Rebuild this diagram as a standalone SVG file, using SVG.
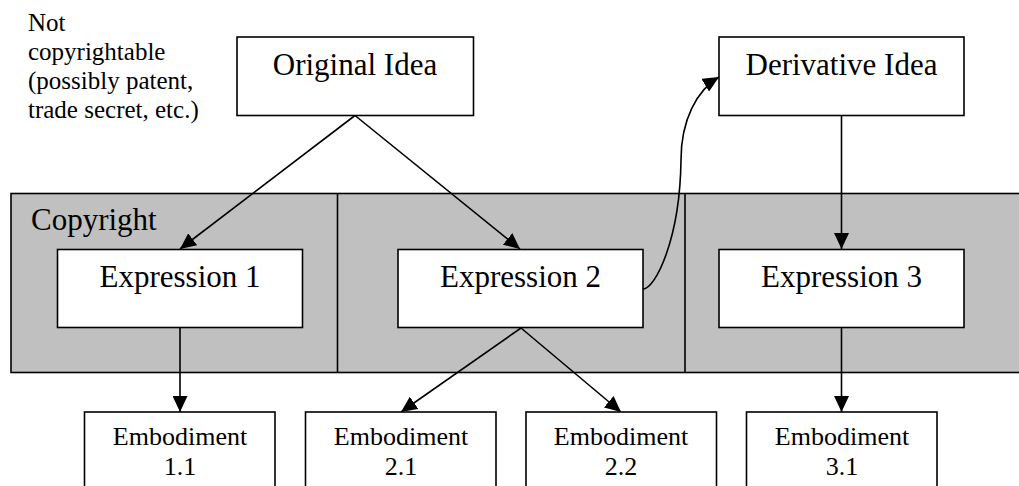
<svg xmlns="http://www.w3.org/2000/svg" width="1019" height="486" viewBox="0 0 1019 486">
  <style>
    .box { fill: #ffffff; stroke: #000000; stroke-width: 1.6; }
    .band { fill: #c0c0c0; stroke: #000000; stroke-width: 1.6; }
    .divider { stroke: #000000; stroke-width: 1.6; fill: none; }
    .edge { stroke: #000000; stroke-width: 1.6; fill: none; marker-end: url(#arrow); }
    .big { font-family: "Liberation Serif", "Times New Roman", serif; font-size: 31px; fill: #000000; }
    .small { font-family: "Liberation Serif", "Times New Roman", serif; font-size: 25px; fill: #000000; }
    .emb { font-family: "Liberation Serif", "Times New Roman", serif; font-size: 26px; fill: #000000; text-anchor: middle; }
  </style>
  <defs>
    <marker id="arrow" viewBox="0 0 16 15" refX="16" refY="7.5" markerUnits="userSpaceOnUse" markerWidth="16" markerHeight="15" orient="auto">
      <path d="M0,0 L16,7.5 L0,15 Z" fill="#000000"/>
    </marker>
  </defs>

  <rect width="1019" height="486" fill="#ffffff"/>

  <!-- copyright band with its three columns -->
  <g id="copyright">
    <rect class="band" x="11" y="193.5" width="1020" height="179"/>
    <line class="divider" x1="337.5" y1="193.5" x2="337.5" y2="372.5"/>
    <line class="divider" x1="685" y1="193.5" x2="685" y2="372.5"/>
    <text class="big" x="31" y="230">Copyright</text>
  </g>

  <g id="note">
    <text class="small" x="28" y="31">Not</text>
    <text class="small" x="28" y="60">copyrightable</text>
    <text class="small" x="28" y="89">(possibly patent,</text>
    <text class="small" x="28" y="118">trade secret, etc.)</text>
  </g>

  <!-- connectors -->
  <g id="connectors">
    <line class="edge" x1="355" y1="115.5" x2="180" y2="249"/>
    <line class="edge" x1="355" y1="115.5" x2="520" y2="249"/>
    <line class="edge" x1="841.5" y1="115.5" x2="841.5" y2="249"/>
    <path class="edge" d="M643,289 C655,289 680,240 681,160 C681,120 697,90 719,77"/>
    <line class="edge" x1="180" y1="328" x2="180" y2="412"/>
    <line class="edge" x1="521" y1="328" x2="401" y2="412"/>
    <line class="edge" x1="521" y1="328" x2="621" y2="412"/>
    <line class="edge" x1="841.5" y1="328" x2="841.5" y2="412"/>
  </g>

  <g id="original-idea">
    <rect class="box" x="237" y="37" width="236.5" height="78.5"/>
    <text class="big" x="355" y="74.5" text-anchor="middle">Original Idea</text>
  </g>

  <g id="derivative-idea">
    <rect class="box" x="719" y="37" width="245" height="78.5"/>
    <text class="big" x="841.5" y="74.5" text-anchor="middle">Derivative Idea</text>
  </g>

  <g id="expression-1">
    <rect class="box" x="57.5" y="249.5" width="245" height="78"/>
    <text class="big" x="180" y="287" text-anchor="middle">Expression 1</text>
  </g>

  <g id="expression-2">
    <rect class="box" x="398" y="249.5" width="245" height="78"/>
    <text class="big" x="520.5" y="287" text-anchor="middle">Expression 2</text>
  </g>

  <g id="expression-3">
    <rect class="box" x="719" y="249.5" width="245" height="78"/>
    <text class="big" x="841.5" y="287" text-anchor="middle">Expression 3</text>
  </g>

  <g id="embodiment-1-1">
    <rect class="box" x="84.5" y="412" width="190.5" height="90"/>
    <text class="emb" x="180" y="445">Embodiment</text>
    <text class="emb" x="180" y="475">1.1</text>
  </g>

  <g id="embodiment-2-1">
    <rect class="box" x="305.5" y="412" width="190.5" height="90"/>
    <text class="emb" x="401" y="445">Embodiment</text>
    <text class="emb" x="401" y="475">2.1</text>
  </g>

  <g id="embodiment-2-2">
    <rect class="box" x="526" y="412" width="190.5" height="90"/>
    <text class="emb" x="621" y="445">Embodiment</text>
    <text class="emb" x="621" y="475">2.2</text>
  </g>

  <g id="embodiment-3-1">
    <rect class="box" x="746.5" y="412" width="190.5" height="90"/>
    <text class="emb" x="842" y="445">Embodiment</text>
    <text class="emb" x="842" y="475">3.1</text>
  </g>
</svg>
